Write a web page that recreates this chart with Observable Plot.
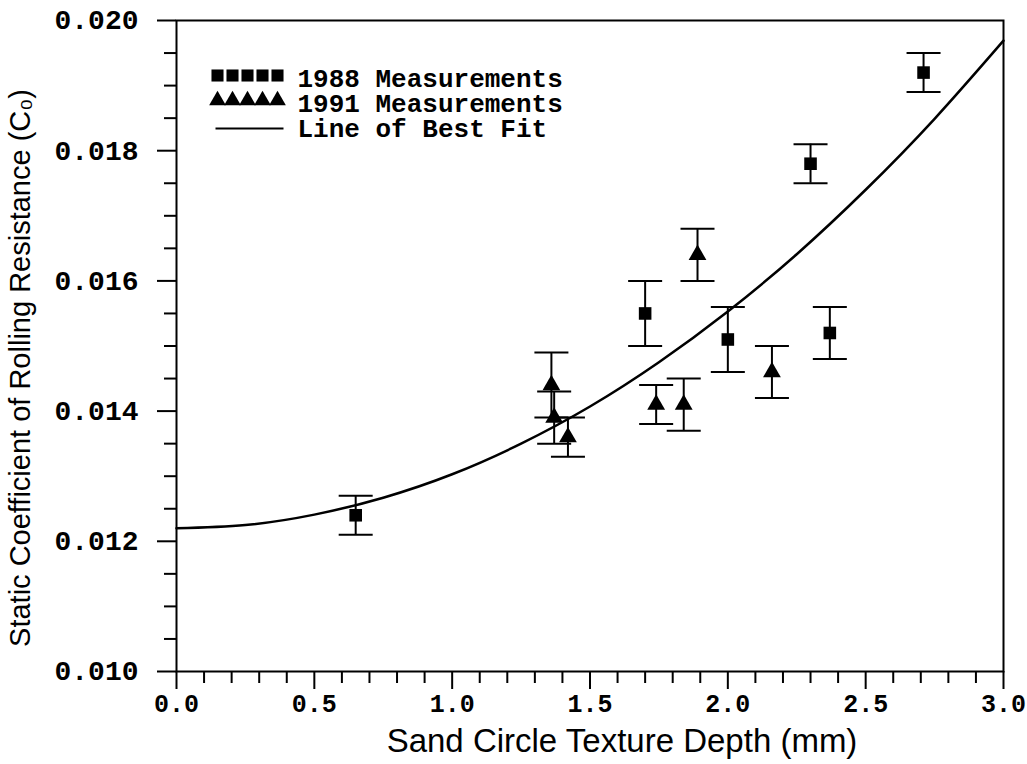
<!DOCTYPE html>
<html>
<head>
<meta charset="utf-8">
<script src="https://cdn.jsdelivr.net/npm/d3@7"></script>
<script src="https://cdn.jsdelivr.net/npm/@observablehq/plot@0.6"></script>
<style>
  html, body { margin: 0; padding: 0; background: #fff; }
</style>
</head>
<body>
<div id="chart"></div>
<script>
// ---- data ----
const x1988 = [0.65, 1.70, 2.00, 2.30, 2.37, 2.71];
const y1988 = [0.0124, 0.0155, 0.0151, 0.0178, 0.0152, 0.0192];
const err1988 = [0.0003, 0.0005, 0.0005, 0.0003, 0.0004, 0.0003];

const x1991 = [1.36, 1.37, 1.42, 1.74, 1.84, 1.89, 2.16];
const y1991 = [0.0144, 0.0139, 0.0136, 0.0141, 0.0141, 0.0164, 0.0146];
const err1991 = [0.0005, 0.0004, 0.0003, 0.0003, 0.0004, 0.0004, 0.0004];

const fitX = [0, 0.25, 0.5, 0.75, 1.0, 1.25, 1.5, 1.75, 2.0, 2.25, 2.5, 2.75, 3.0];
const fitY = [0.01220, 0.01225, 0.01241, 0.01267, 0.01303, 0.01350, 0.01407, 0.01475, 0.01553, 0.01641, 0.01740, 0.01849, 0.01969];

const xMajorTicks = [0.0, 0.5, 1.0, 1.5, 2.0, 2.5, 3.0];
const xMinorTicks = [0.1,0.2,0.3,0.4,0.6,0.7,0.8,0.9,1.1,1.2,1.3,1.4,1.6,1.7,1.8,1.9,2.1,2.2,2.3,2.4,2.6,2.7,2.8,2.9];
const yMajorTicks = [0.010, 0.012, 0.014, 0.016, 0.018, 0.020];
const yMinorTicks = [0.0105,0.011,0.0115,0.0125,0.013,0.0135,0.0145,0.015,0.0155,0.0165,0.017,0.0175,0.0185,0.019,0.0195];

const legendLabels = ["1988 Measurements", "1991 Measurements", "Line of Best Fit"];
const xTitle = "Sand Circle Texture Depth (mm)";
const yTitle = "Static Coefficient of Rolling Resistance (C\u2080)";

// ---- tables built from the arrays ----
const d1988 = x1988.map((x, i) => ({x, y: y1988[i], lo: y1988[i] - err1988[i], hi: y1988[i] + err1988[i]}));
const d1991 = x1991.map((x, i) => ({x, y: y1991[i], lo: y1991[i] - err1991[i], hi: y1991[i] + err1991[i]}));
const allPts = d1988.concat(d1991);
const fit = fitX.map((x, i) => ({x, y: fitY[i]}));

const hline = (hw) => ({draw(ctx) { ctx.moveTo(-hw, 0); ctx.lineTo(hw, 0); }});
const cap = hline(17);
const legendLine = hline(34);

const mono = "Liberation Mono, Courier New, monospace";
const sans = "Liberation Sans, Arial, Helvetica, sans-serif";

const legendMarks = [];
[0, 1, 2, 3, 4].forEach(i => {
  legendMarks.push(Plot.dot([legendLabels[0]], {frameAnchor: "top-left", dx: 41 + i * 15, dy: 55, symbol: "square", r: 6.8, fill: "black", stroke: "none"}));
  legendMarks.push(Plot.dot([legendLabels[1]], {frameAnchor: "top-left", dx: 41 + i * 15, dy: 80, symbol: "triangle", r: 6.2, fill: "black", stroke: "none"}));
});
legendMarks.push(Plot.dot([legendLabels[2]], {frameAnchor: "top-left", dx: 73, dy: 108, symbol: legendLine, r: 5, fill: "none", stroke: "black", strokeWidth: 2}));
legendLabels.forEach((t, i) => {
  legendMarks.push(Plot.text([t], {frameAnchor: "top-left", dx: 121, dy: [58, 83, 108][i], text: d => d, textAnchor: "start", lineAnchor: "middle", fontFamily: mono, fontSize: 26, fontWeight: "bold", fill: "black"}));
});

const chart = Plot.plot({
  width: 1027,
  height: 764,
  marginLeft: 176,
  marginRight: 24,
  marginTop: 20,
  marginBottom: 93,
  style: {fontFamily: mono, fontSize: "28px", color: "black", background: "white", overflow: "visible"},
  x: {domain: [0, 3], label: null},
  y: {domain: [0.010, 0.020], label: null},
  marks: [
    Plot.frame({stroke: "black", strokeWidth: 2}),
    Plot.axisX({ticks: xMinorTicks, tickSize: 12, tickFormat: () => "", strokeWidth: 2, label: null}),
    Plot.axisX({ticks: xMajorTicks, tickSize: 18, tickPadding: 5, tickFormat: d3.format(".1f"), strokeWidth: 2, fontWeight: "bold", fontSize: 25, label: null}),
    Plot.axisY({ticks: yMinorTicks, tickSize: 12, tickFormat: () => "", strokeWidth: 2, label: null}),
    Plot.axisY({ticks: yMajorTicks, tickSize: 19, tickPadding: 19, tickFormat: d3.format(".3f"), strokeWidth: 2, fontWeight: "bold", fontSize: 28, label: null}),
    Plot.line(fit, {x: "x", y: "y", curve: "natural", stroke: "black", strokeWidth: 2.5}),
    Plot.ruleX(allPts, {x: "x", y1: "lo", y2: "hi", stroke: "black", strokeWidth: 2}),
    Plot.dot(allPts, {x: "x", y: "hi", symbol: cap, r: 5, fill: "none", stroke: "black", strokeWidth: 2}),
    Plot.dot(allPts, {x: "x", y: "lo", symbol: cap, r: 5, fill: "none", stroke: "black", strokeWidth: 2}),
    Plot.dot(d1988, {x: "x", y: "y", symbol: "square", r: 7.1, fill: "black", stroke: "none"}),
    Plot.dot(d1991, {x: "x", y: "y", symbol: "triangle", r: 6.6, fill: "black", stroke: "none"}),
    ...legendMarks,
    Plot.text([xTitle], {frameAnchor: "bottom", dx: 32, dy: 70, text: d => d, textAnchor: "middle", lineAnchor: "middle", fontFamily: sans, fontSize: 33, fill: "black"}),
    Plot.text([yTitle], {frameAnchor: "left", dx: -156, dy: 22, rotate: -90, text: d => d, textAnchor: "middle", lineAnchor: "middle", fontFamily: sans, fontSize: 29, fill: "black"})
  ]
});
document.getElementById("chart").appendChild(chart);
</script>
</body>
</html>
